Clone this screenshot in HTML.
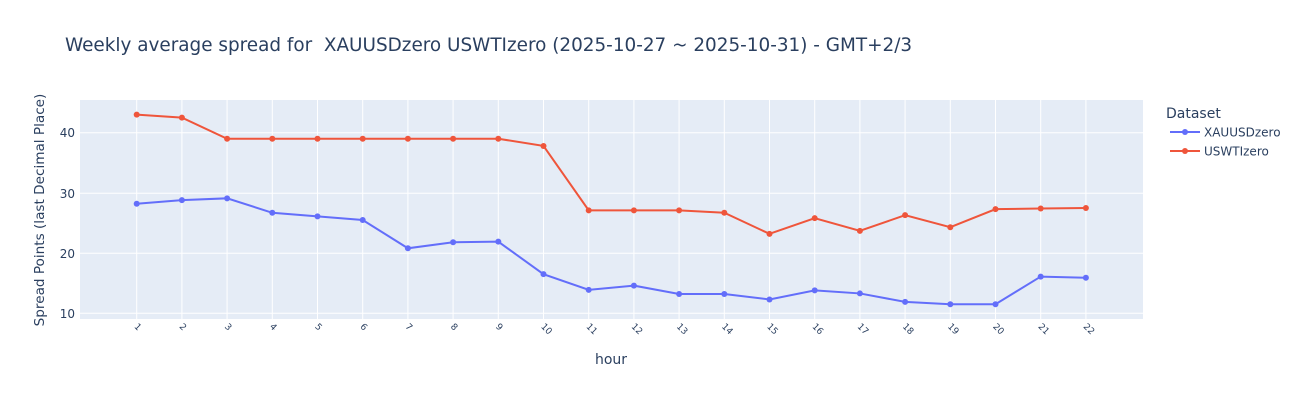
<!DOCTYPE html>
<html><head><meta charset="utf-8"><style>
body{margin:0;background:#fff}
svg{display:block;font-family:"DejaVu Sans","Liberation Sans",sans-serif}
</style></head><body>
<svg width="1300" height="400" xmlns="http://www.w3.org/2000/svg">
<rect width="1300" height="400" fill="#fff"/>
<text x="65" y="51" font-size="18.4" fill="#2a3f5f" style="white-space:pre">Weekly average spread for&#160; XAUUSDzero USWTIzero (2025-10-27 ~ 2025-10-31) - GMT+2/3</text>
<rect x="80" y="100" width="1063" height="219" fill="#e5ecf6"/>
<g stroke="#fff" stroke-width="1">
<line x1="80" x2="1143" y1="132.7" y2="132.7"/>
<line x1="80" x2="1143" y1="193.3" y2="193.3"/>
<line x1="80" x2="1143" y1="253.3" y2="253.3"/>
<line x1="80" x2="1143" y1="313.3" y2="313.3"/>
<g id="vg"></g>
</g>
<g font-size="12" fill="#2a3f5f" text-anchor="end">
<text x="75" y="137">40</text><text x="75" y="198">30</text><text x="75" y="258">20</text><text x="75" y="318">10</text>
</g>
<text transform="translate(44,210) rotate(-90)" font-size="13.6" fill="#2a3f5f" text-anchor="middle">Spread Points (last Decimal Place)</text>
<text x="611" y="364" font-size="14" fill="#2a3f5f" text-anchor="middle">hour</text>
<g id="tl" font-size="9" fill="#2a3f5f"></g>
<polyline id="l2" fill="none" stroke="#ef553b" stroke-width="2"/>
<polyline id="l1" fill="none" stroke="#636efa" stroke-width="2"/>
<g id="m"></g>
<text x="1166" y="118" font-size="14" fill="#2a3f5f">Dataset</text>
<line x1="1170" x2="1200" y1="132" y2="132" stroke="#636efa" stroke-width="2"/><circle cx="1185" cy="132" r="3" fill="#636efa"/>
<text x="1204" y="136.5" font-size="12" fill="#2a3f5f">XAUUSDzero</text>
<line x1="1170" x2="1200" y1="151" y2="151" stroke="#ef553b" stroke-width="2"/><circle cx="1185" cy="151" r="3" fill="#ef553b"/>
<text x="1204" y="155.5" font-size="12" fill="#2a3f5f">USWTIzero</text>
<script>
var a=[28.2,28.8,29.1,26.7,26.1,25.5,20.8,21.8,21.9,16.5,13.9,14.6,13.2,13.2,12.3,13.8,13.3,11.9,11.5,11.5,16.1,15.9];
var b=[43.0,42.5,39,39,39,39,39,39,39,37.8,27.1,27.1,27.1,26.7,23.2,25.8,23.7,26.3,24.3,27.3,27.4,27.5];
var ns="http://www.w3.org/2000/svg";
function X(i){return 136.7+i*45.2}function Y(v){return 313.3-(v-10)*6.02}
var vg=document.getElementById('vg'),tl=document.getElementById('tl'),m=document.getElementById('m');
var p1=[],p2=[];
for(var i=0;i<22;i++){var x=X(i);
var l=document.createElementNS(ns,'line');l.setAttribute('x1',x);l.setAttribute('x2',x);l.setAttribute('y1',100);l.setAttribute('y2',319);vg.appendChild(l);
var t=document.createElementNS(ns,'text');t.setAttribute('transform','translate('+(x-3)+',327) rotate(45)');t.textContent=i+1;tl.appendChild(t);
p1.push(x+','+Y(a[i]));p2.push(x+','+Y(b[i]));
[[a,'#636efa'],[b,'#ef553b']].forEach(function(s){var c=document.createElementNS(ns,'circle');c.setAttribute('cx',x);c.setAttribute('cy',Y(s[0][i]));c.setAttribute('r',3);c.setAttribute('fill',s[1]);m.appendChild(c);});
}
document.getElementById('l1').setAttribute('points',p1.join(' '));
document.getElementById('l2').setAttribute('points',p2.join(' '));
</script>
</svg>
</body></html>
